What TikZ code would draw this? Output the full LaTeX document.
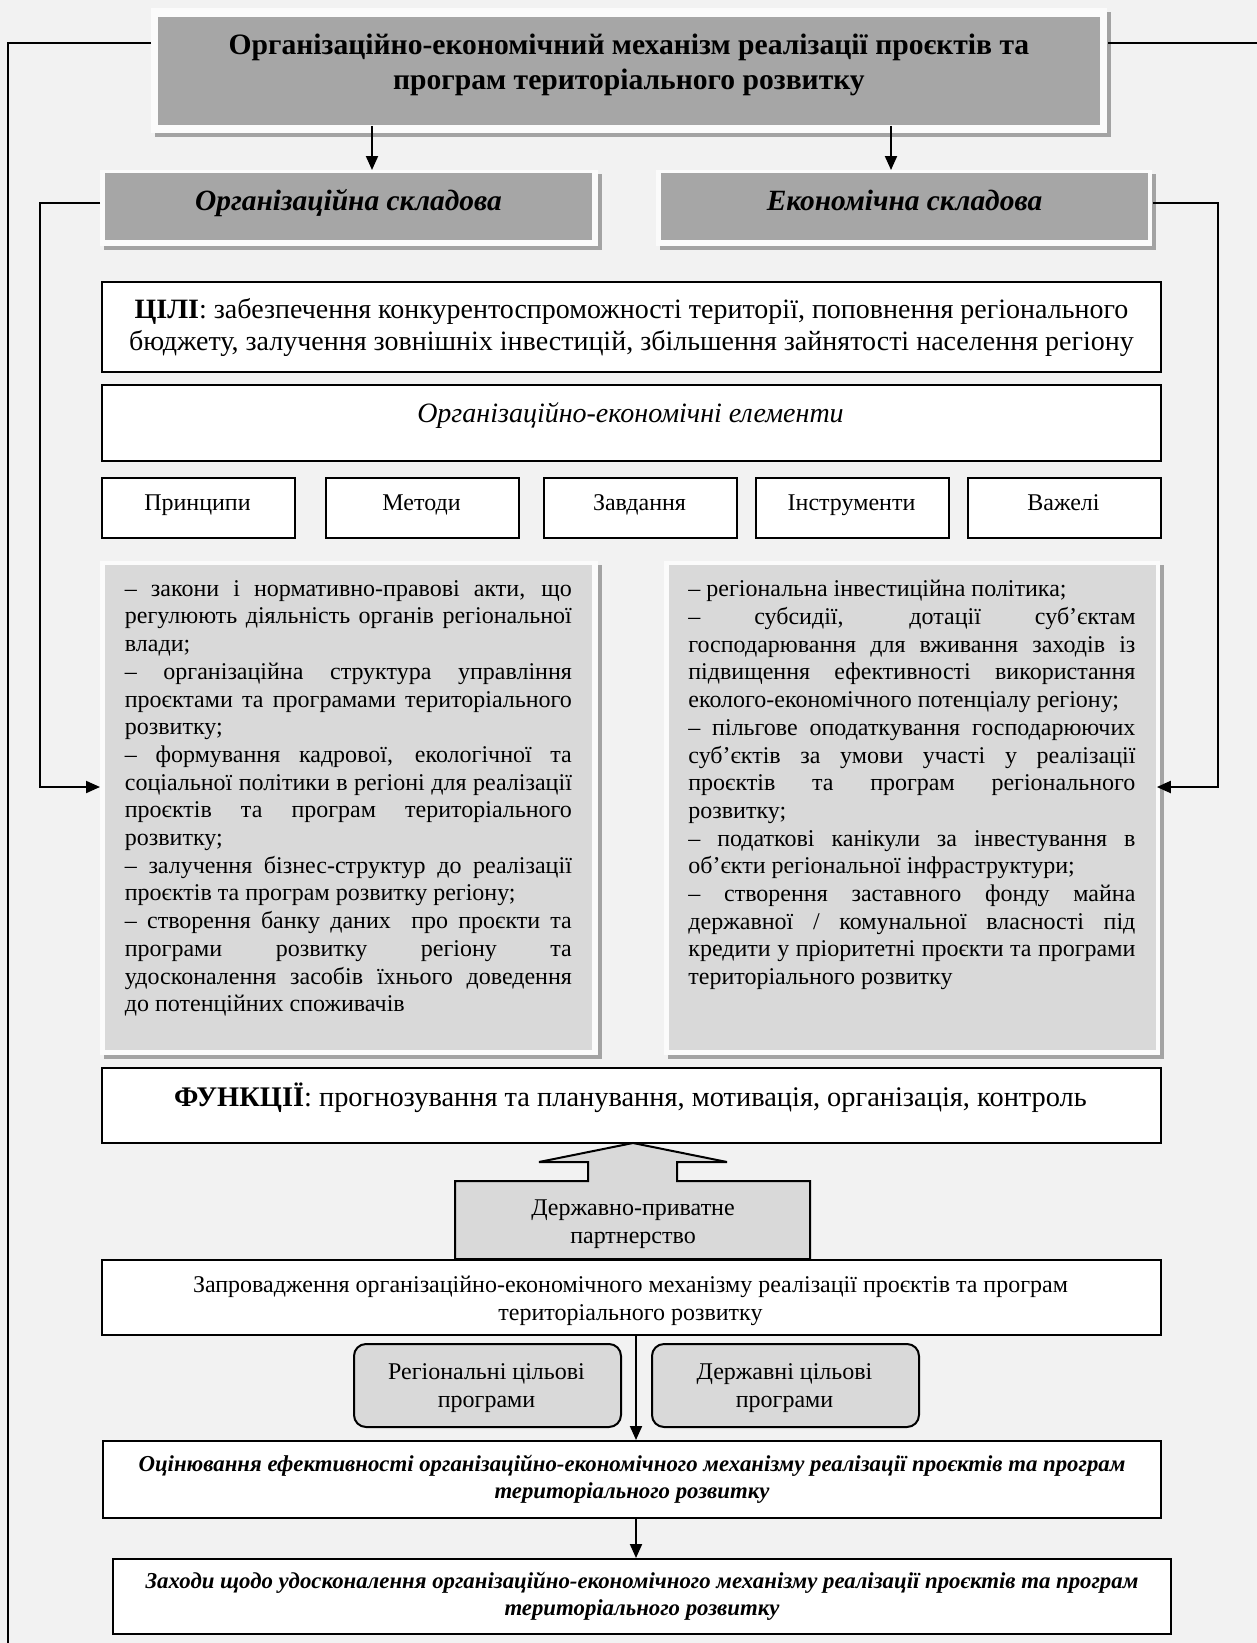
\documentclass[tikz,border=0pt]{standalone}
\usepackage{fontspec}
\setmainfont{Liberation Serif}
\usetikzlibrary{arrows.meta,shadows}

\definecolor{bgcol}{HTML}{F2F2F2}
\definecolor{darkfill}{HTML}{A6A6A6}
\definecolor{lightfill}{HTML}{D9D9D9}
\definecolor{shadecol}{HTML}{A3A3A3}
\definecolor{framecol}{HTML}{FBFBFB}

\hbadness=10000
\tolerance=10000
\hyphenpenalty=10000
\exhyphenpenalty=10000

\tikzset{
  boxsize/.style 2 args={minimum width=#1*0.5pt, minimum height=#2*0.5pt},
  plainbox/.style={draw=black, line width=1pt, fill=white, inner sep=0pt, align=center},
  framebox/.style={fill=framecol, inner sep=0pt,
    drop shadow={shadow xshift=2pt, shadow yshift=-2pt, fill=shadecol, opacity=1}},
  darkbox/.style={fill=darkfill, inner sep=0pt, align=center},
  listbox/.style={fill=lightfill, inner sep=0pt},
  roundbox/.style={draw=black, line width=1pt, fill=lightfill, rounded corners=6pt,
    inner sep=0pt, align=center},
  conn/.style={line width=1pt},
  arr/.style={conn, -{Triangle[length=7pt,width=6pt]}},
  label/.style={inner sep=0pt, align=center},
  headfont/.style={font=\fontsize{14.8}{17.3}\selectfont\bfseries},
  partfont/.style={font=\fontsize{14.7}{17}\selectfont\bfseries\itshape},
  goaltext/.style={font=\fontsize{14}{16}\selectfont},
  functext/.style={font=\fontsize{14.2}{16}\selectfont},
  smalltext/.style={font=\fontsize{12}{14}\selectfont},
  listtext/.style={font=\fontsize{12}{13.85}\selectfont, text width=223.5pt,
    align=justify, inner sep=0pt},
  evaltext/.style={font=\fontsize{11.4}{13.5}\selectfont\bfseries\itshape},
}

\begin{document}
\begin{tikzpicture}[x=0.5pt,y=-0.5pt]
\useasboundingbox (0,0) rectangle (1257,1643);
\fill[bgcol] (0,0) rectangle (1257,1643);

% helper coordinates for bus lines and arrow columns
\coordinate (frameL) at (8,1643);
\coordinate (frameR) at (1257,43);
\coordinate (colA) at (372,0);
\coordinate (colB) at (891,0);
\coordinate (busY) at (0,203);
\coordinate (lbus) at (40,787);
\coordinate (rbus) at (1218,787);
\coordinate (colC) at (636,0);

% ---- title block ----
\node[framebox, boxsize={956}{125}, anchor=north west] (titleframe) at (151,8) {};
\node[darkbox, boxsize={942}{108}, anchor=north west] (title) at (158,17) {};
\node[label, headfont] (titletext) at (629,65)
  {Організаційно-економічний механізм реалізації проєктів та\\програм територіального розвитку};

% ---- the two components ----
\node[framebox, boxsize={498}{76}, anchor=north west] (orgframe) at (100,170) {};
\node[darkbox, boxsize={487}{67}, anchor=north west] (org) at (105,173) {};
\node[label, partfont, anchor=base] (orgtext) at (348.5,210) {Організаційна складова};
\node[framebox, boxsize={496}{76}, anchor=north west] (ecoframe) at (656,170) {};
\node[darkbox, boxsize={487}{67}, anchor=north west] (eco) at (661,173) {};
\node[label, partfont, anchor=base] (ecotext) at (904.5,210) {Економічна складова};

% ---- goals ----
\node[plainbox, boxsize={1059}{90}, anchor=north west, goaltext] (goals) at (101,281)
  {\textbf{ЦІЛІ}: забезпечення конкурентоспроможності території, поповнення регіонального\\
   бюджету, залучення зовнішніх інвестицій, збільшення зайнятості населення регіону};

% ---- elements ----
\node[plainbox, boxsize={1059}{76}, anchor=north west] (elems) at (101,384) {};
\node[label, font=\fontsize{14}{16}\selectfont\itshape, anchor=base] (elemstext) at (630.5,422)
  {Організаційно-економічні елементи};

\node[plainbox, boxsize={193}{60}, anchor=north west] (e1) at (101,477) {};
\node[plainbox, boxsize={193}{60}, anchor=north west] (e2) at (325,477) {};
\node[plainbox, boxsize={193}{60}, anchor=north west] (e3) at (543,477) {};
\node[plainbox, boxsize={193}{60}, anchor=north west] (e4) at (755,477) {};
\node[plainbox, boxsize={193}{60}, anchor=north west] (e5) at (967,477) {};
\node[label, smalltext, anchor=base] (e1t) at (197.5,510.5) {Принципи};
\node[label, smalltext, anchor=base] (e2t) at (421.5,510.5) {Методи};
\node[label, smalltext, anchor=base] (e3t) at (639.5,510.5) {Завдання};
\node[label, smalltext, anchor=base] (e4t) at (851.5,510.5) {Інструменти};
\node[label, smalltext, anchor=base] (e5t) at (1063.5,510.5) {Важелі};

% ---- list panels ----
\node[framebox, boxsize={498}{494}, anchor=north west] (leftframe) at (100,561) {};
\node[listbox, boxsize={487}{485}, anchor=north west] (leftlist) at (105,565) {};
\node[framebox, boxsize={496}{494}, anchor=north west] (rightframe) at (664,561) {};
\node[listbox, boxsize={487}{485}, anchor=north west] (rightlist) at (669,565) {};

\node[listtext, anchor=north west] (lefttext) at (124.5,580) {\parindent=0pt
– закони і нормативно-правові акти, що\linebreak
регулюють діяльність органів регіональної\linebreak
влади;\par
– організаційна структура управління\linebreak
проєктами та програмами територіального\linebreak
розвитку;\par
– формування кадрової, екологічної та\linebreak
соціальної політики в регіоні для реалізації\linebreak
проєктів та програм територіального\linebreak
розвитку;\par
– залучення бізнес-структур до реалізації\linebreak
проєктів та програм розвитку регіону;\par
– створення банку даних \ про проєкти та\linebreak
програми розвитку регіону та\linebreak
удосконалення засобів їхнього доведення\linebreak
до потенційних споживачів\par};

\node[listtext, anchor=north west] (righttext) at (688,580) {\parindent=0pt
– регіональна інвестиційна політика;\par
– субсидії, дотації суб’єктам\linebreak
господарювання для вживання заходів із\linebreak
підвищення ефективності використання\linebreak
еколого-економічного потенціалу регіону;\par
– пільгове оподаткування господарюючих\linebreak
суб’єктів за умови участі у реалізації\linebreak
проєктів та програм регіонального\linebreak
розвитку;\par
– податкові канікули за інвестування в\linebreak
об’єкти регіональної інфраструктури;\par
– створення заставного фонду майна\linebreak
державної / комунальної власності під\linebreak
кредити у пріоритетні проєкти та програми\linebreak
територіального розвитку\par};

% ---- functions ----
\node[plainbox, boxsize={1059}{75}, anchor=north west] (funcs) at (101,1067) {};
\node[label, functext, anchor=base] (funcstext) at (630.5,1106.5)
  {\textbf{ФУНКЦІЇ}: прогнозування та планування, мотивація, організація, контроль};

% ---- public-private partnership block arrow ----
\draw[line width=1pt, fill=lightfill]
  (633,1143) -- (727,1162) -- (677,1162) -- (677,1181) -- (810,1181) -- (810,1259)
  -- (455,1259) -- (455,1181) -- (588,1181) -- (588,1162) -- (539,1162) -- cycle;
\node[label, smalltext] (ppp) at (633,1224)
  {Державно-приватне\\партнерство};

% ---- implementation ----
\node[plainbox, boxsize={1059}{75}, anchor=north west] (impl) at (101,1259) {};
\node[label, smalltext] (impltext) at (630.5,1300.5)
  {Запровадження організаційно-економічного механізму реалізації проєктів та програм\\
   територіального розвитку};

\node[roundbox, boxsize={267}{83}, anchor=north west] (regprog) at (353,1343) {};
\node[label, smalltext] (regprogtext) at (486.5,1388.5) {Регіональні цільові\\програми};
\node[roundbox, boxsize={267}{83}, anchor=north west] (stateprog) at (651,1343) {};
\node[label, smalltext] (stateprogtext) at (784.5,1388.5) {Державні цільові\\програми};

% ---- evaluation and improvement ----
\node[plainbox, boxsize={1058}{77}, anchor=north west, evaltext] (eval) at (102,1440)
  {Оцінювання ефективності організаційно-економічного механізму реалізації проєктів та програм\\
   територіального розвитку};
\node[plainbox, boxsize={1058}{75}, anchor=north west, evaltext] (meas) at (112,1558)
  {Заходи щодо удосконалення організаційно-економічного механізму реалізації проєктів та програм\\
   територіального розвитку};

% ---- connectors ----
\draw[conn] (titleframe.west |- frameR) -| (frameL);
\draw[conn] (titleframe.east |- frameR) -- (frameR);
\draw[arr] (title.south -| colA) -- (orgframe.north -| colA);
\draw[arr] (title.south -| colB) -- (ecoframe.north -| colB);
\draw[arr] (orgframe.west |- busY) -| (lbus) -- (lbus -| leftframe.west);
\draw[arr] (ecoframe.east |- busY) -| (rbus) -- (rbus -| rightlist.east);
\draw[arr] (impl.south -| colC) -- (eval.north -| colC);
\draw[arr] (eval.south -| colC) -- (meas.north -| colC);
\end{tikzpicture}
\end{document}
